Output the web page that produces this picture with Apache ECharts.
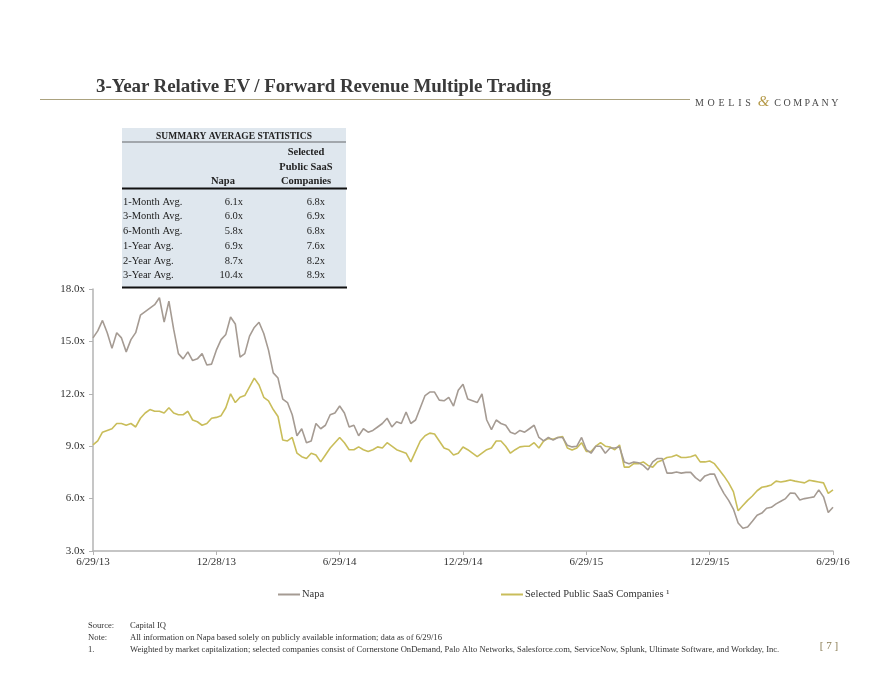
<!DOCTYPE html>
<html>
<head>
<meta charset="utf-8">
<script src="https://cdn.jsdelivr.net/npm/echarts@6/dist/echarts.min.js"></script>
<style>
  html, body { margin:0; padding:0; background:#fff; }
  #wrap { position:relative; width:880px; height:680px; }
  #chart { position:absolute; left:0; top:0; width:880px; height:680px; }
  .title { position:absolute; left:96px; top:75px; font-family:"Liberation Serif", serif; font-weight:bold; font-size:19px; letter-spacing:-0.1px; color:#3a3a3a; white-space:nowrap; }
  .rule { position:absolute; left:40px; top:99px; width:650px; height:0; border-top:1.5px solid #aba27f; }
  .logo { position:absolute; left:695px; top:93px; font-family:"Liberation Serif", serif; font-size:10px; letter-spacing:3.7px; color:#4a4a4a; white-space:nowrap; }
  .logo .amp { color:#b59a4a; font-style:italic; font-size:15px; letter-spacing:0px; margin-left:-3px; margin-right:3px; }
  .logo .co { letter-spacing:2.5px; margin-left:-3px; }
</style>
</head>
<body>
<div id="wrap">
  <div id="chart"></div>
  <div class="title">3-Year Relative EV / Forward Revenue Multiple Trading</div>
  <div class="rule"></div>
  <div class="logo">MOELIS <span class="amp">&amp;</span><span class="co"> COMPANY</span></div>
</div>
<script>
// ---- data ----
const xTickLabels = ['6/29/13','12/28/13','6/29/14','12/29/14','6/29/15','12/29/15','6/29/16'];
const yTicks = [3, 6, 9, 12, 15, 18];
const seriesNames = ['Napa', 'Selected Public SaaS Companies \u00b9'];

// weekly values, 6/29/13 .. 6/29/16
const napa = [
15.2,15.6,16.2,15.5,14.6,15.5,15.2,14.4,15.1,15.5,
16.5,16.7,16.9,17.1,17.5,16.1,17.3,15.7,14.3,14.0,
14.4,13.9,14.0,14.3,13.65,13.7,14.5,15.1,15.4,16.4,
16.0,14.1,14.3,15.3,15.8,16.1,15.45,14.5,13.2,12.9,
11.7,11.5,10.8,9.6,10.0,9.2,9.3,10.3,10.0,10.2,
10.8,10.9,11.3,10.9,10.1,10.2,9.6,10.0,9.8,9.9,
10.1,10.3,10.6,10.1,10.4,10.3,10.96,10.3,10.5,11.2,
11.9,12.1,12.1,11.64,11.6,11.8,11.3,12.2,12.55,11.7,
11.6,11.5,12.0,10.5,9.95,10.5,10.3,10.2,9.8,9.7,
9.9,9.8,10.0,10.2,9.5,9.3,9.5,9.35,9.5,9.5,
9.05,8.96,9.0,9.5,8.8,8.6,9.0,9.0,8.6,8.9,
8.9,8.96,8.1,8.0,8.1,8.05,7.9,7.64,8.1,8.3,
8.3,7.46,7.46,7.52,7.46,7.5,7.5,7.2,7.0,7.3,
7.4,7.4,6.8,6.3,5.9,5.4,4.6,4.3,4.37,4.7,
5.05,5.17,5.45,5.5,5.7,5.85,6.0,6.32,6.3,5.92,
6.0,6.05,6.1,6.5,6.1,5.2,5.5
];
const saas = [
9.07,9.3,9.8,9.9,10.0,10.3,10.3,10.2,10.3,10.1,
10.6,10.9,11.1,11.0,11.0,10.9,11.2,10.9,10.8,10.8,
11.0,10.5,10.4,10.2,10.3,10.6,10.65,10.75,11.2,12.0,
11.5,11.8,11.9,12.4,12.9,12.5,11.8,11.6,11.1,10.7,
9.35,9.3,9.5,8.6,8.4,8.3,8.6,8.5,8.1,8.5,
8.9,9.2,9.5,9.2,8.8,8.8,8.96,8.8,8.7,8.8,
8.96,8.9,9.2,9.0,8.8,8.7,8.6,8.1,8.7,9.3,
9.6,9.75,9.7,9.3,8.9,8.8,8.5,8.6,8.95,8.8,
8.6,8.4,8.6,8.8,8.9,9.3,9.3,9.0,8.6,8.8,
8.96,9.0,9.0,9.2,8.9,9.3,9.45,9.4,9.5,9.55,
8.9,8.78,8.9,9.2,8.7,8.7,9.0,9.2,9.0,8.95,
8.8,9.07,7.8,7.8,8.0,8.0,8.1,7.9,7.8,8.1,
8.2,8.35,8.4,8.5,8.35,8.35,8.4,8.5,8.1,8.1,
8.15,8.0,7.65,7.3,6.9,6.4,5.3,5.6,5.9,6.15,
6.45,6.65,6.7,6.78,7.0,6.95,7.0,7.06,7.0,6.95,
6.9,7.05,7.0,6.95,6.9,6.3,6.5
];

// summary table
const tableRows = ['1-Month Avg.','3-Month Avg.','6-Month Avg.','1-Year Avg.','2-Year Avg.','3-Year Avg.'];
const tableNapa = ['6.1x','6.0x','5.8x','6.9x','8.7x','10.4x'];
const tableSaas = ['6.8x','6.9x','6.8x','7.6x','8.2x','8.9x'];
const footnotes = [
  ['Source:', 'Capital IQ'],
  ['Note:', 'All information on Napa based solely on publicly available information; data as of 6/29/16'],
  ['1.', 'Weighted by market capitalization; selected companies consist of Cornerstone OnDemand, Palo Alto Networks, Salesforce.com, ServiceNow, Splunk, Ultimate Software, and Workday, Inc.']
];

// ---- build ----
const categories = napa.map((_, i) => i);
const tickStep = 26;
const serif = '"Liberation Serif", serif';
const txtColor = '#333';

const graphics = [];
graphics.push({ type:'rect', left:122, top:128, shape:{ width:224, height:160 }, style:{ fill:'#dfe7ee' }, z:10 });
graphics.push({ type:'text', x:234, y:137, style:{ text:'SUMMARY AVERAGE STATISTICS', font:'bold 9.5px ' + serif, fill:'#222', align:'center', verticalAlign:'middle' }, z:11 });
graphics.push({ type:'line', shape:{ x1:122, y1:142, x2:346, y2:142 }, style:{ stroke:'#8e9296', lineWidth:1.5 }, z:11 });
['Selected','Public SaaS','Companies'].forEach((t, i) => {
  graphics.push({ type:'text', x:306, y:152 + i * 14.8, style:{ text:t, font:'bold 10.5px ' + serif, fill:'#222', align:'center', verticalAlign:'middle' }, z:11 });
});
graphics.push({ type:'text', x:223, y:181.6, style:{ text:'Napa', font:'bold 10.5px ' + serif, fill:'#222', align:'center', verticalAlign:'middle' }, z:11 });
graphics.push({ type:'line', shape:{ x1:122, y1:188.5, x2:347, y2:188.5 }, style:{ stroke:'#111', lineWidth:2 }, z:11 });
tableRows.forEach((r, i) => {
  const y = 202 + i * 14.7;
  graphics.push({ type:'text', x:123, y:y, style:{ text:r, font:'10.5px ' + serif, fill:'#222', align:'left', verticalAlign:'middle' }, z:11 });
  graphics.push({ type:'text', x:243, y:y, style:{ text:tableNapa[i], font:'10.5px ' + serif, fill:'#222', align:'right', verticalAlign:'middle' }, z:11 });
  graphics.push({ type:'text', x:325, y:y, style:{ text:tableSaas[i], font:'10.5px ' + serif, fill:'#222', align:'right', verticalAlign:'middle' }, z:11 });
});
graphics.push({ type:'line', shape:{ x1:122, y1:287.5, x2:347, y2:287.5 }, style:{ stroke:'#111', lineWidth:2 }, z:11 });
footnotes.forEach((f, i) => {
  const y = 626 + i * 12;
  graphics.push({ type:'text', x:88, y:y, style:{ text:f[0], font:'8.6px ' + serif, fill:txtColor, verticalAlign:'middle' } });
  graphics.push({ type:'text', x:130, y:y, style:{ text:f[1], font:'8.6px ' + serif, fill:txtColor, verticalAlign:'middle' } });
});
graphics.push({ type:'text', x:829, y:646, style:{ text:'[ 7 ]', font:'11px ' + serif, fill:'#8a7d55', align:'center', verticalAlign:'middle' } });

const chart = echarts.init(document.getElementById('chart'), null, { renderer:'canvas' });
chart.setOption({
  animation:false,
  backgroundColor:'#fff',
  textStyle:{ fontFamily:serif },
  grid:{ left:93, right:47, top:289, bottom:129, containLabel:false },
  legend:[
    { data:[seriesNames[0]], left:273, top:584, icon:'rect', itemWidth:22, itemHeight:2, itemGap:4,
      textStyle:{ fontFamily:serif, fontSize:10.5, color:txtColor, padding:[0,0,0,-3] } },
    { data:[seriesNames[1]], left:496, top:584, icon:'rect', itemWidth:22, itemHeight:2, itemGap:4,
      textStyle:{ fontFamily:serif, fontSize:10.5, color:txtColor, padding:[0,0,0,-3] } }
  ],
  xAxis:{
    type:'category', data:categories, boundaryGap:false,
    axisLine:{ lineStyle:{ color:'#b3b3b3', width:1.5 } },
    axisTick:{ show:true, interval:tickStep - 1, length:4, lineStyle:{ color:'#b3b3b3', width:1 } },
    axisLabel:{ interval:tickStep - 1, margin:6, fontFamily:serif, fontSize:11, color:txtColor,
      formatter:(v, idx) => xTickLabels[Math.round(idx / tickStep)] || '' },
    splitLine:{ show:false }
  },
  yAxis:{
    type:'value', min:yTicks[0], max:yTicks[yTicks.length - 1], interval:3,
    axisLine:{ show:true, lineStyle:{ color:'#b3b3b3', width:1.5 } },
    axisTick:{ show:true, length:4, lineStyle:{ color:'#b3b3b3' } },
    axisLabel:{ margin:8, fontFamily:serif, fontSize:11, color:txtColor, formatter:v => v.toFixed(1) + 'x' },
    splitLine:{ show:false }
  },
  series:[
    { name:seriesNames[0], type:'line', data:napa, showSymbol:false, symbol:'none',
      lineStyle:{ color:'#a59b93', width:1.6 }, itemStyle:{ color:'#a59b93' }, z:3 },
    { name:seriesNames[1], type:'line', data:saas, showSymbol:false, symbol:'none',
      lineStyle:{ color:'#c9bd5a', width:1.6 }, itemStyle:{ color:'#c9bd5a' }, z:2 }
  ],
  graphic:graphics
});
</script>
</body>
</html>
